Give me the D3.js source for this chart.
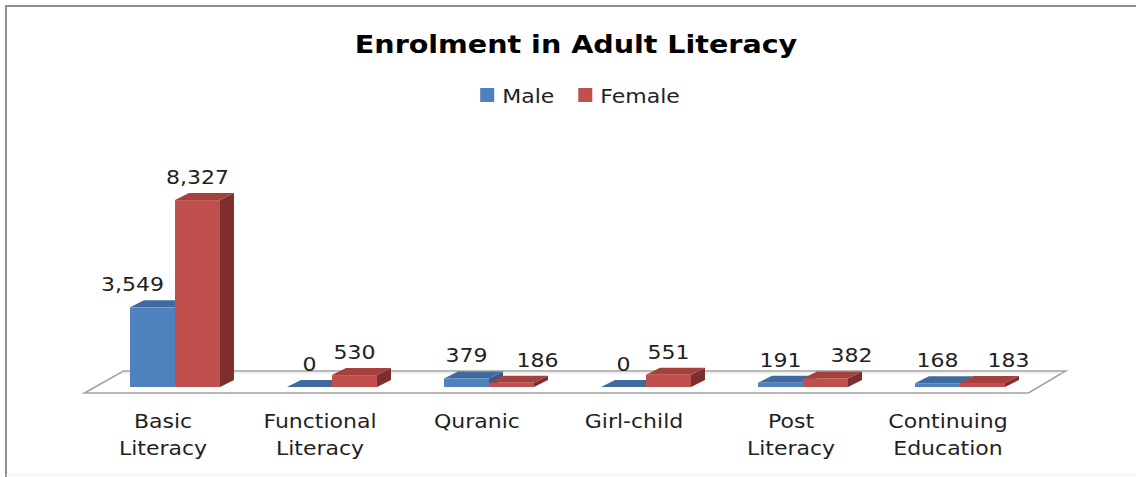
<!DOCTYPE html>
<html>
<head>
<meta charset="utf-8">
<script src="https://cdn.jsdelivr.net/npm/d3@7"></script>
<style>
  body { margin: 0; background: #fff; }
  text { font-family: "DejaVu Sans", sans-serif; fill: #1f1f1f; }
</style>
</head>
<body>
<div id="chart"></div>
<script>
// chart values
var categories = ['Basic Literacy', 'Functional Literacy', 'Quranic', 'Girl-child', 'Post Literacy', 'Continuing Education'];
var seriesNames = ['Male', 'Female'];
var male = [3549, 0, 379, 0, 191, 168];
var female = [8327, 530, 186, 551, 382, 183];

var config = {
    w: 1136,
    h: 477,
    depthX: 14,
    depthY: -7,
    sx: 1.1, // horizontal stretch of the text, the original is stretched
    colors: {
        Male: { front: '#4f81bd', top: '#3f6aa0', side: '#345a88' },
        Female: { front: '#c0504d', top: '#a5403d', side: '#7e2f2d' }
    }
};

var c = config;

var svg = d3.select('#chart').append('svg')
    .attr('width', c.w)
    .attr('height', c.h);

// outer frame
svg.append('path')
    .attr('d', 'M6,' + c.h + 'V6H' + c.w)
    .attr('fill', 'none')
    .attr('stroke', '#8e8e8e')
    .attr('stroke-width', 2);
svg.append('line')
    .attr('x1', 6).attr('x2', c.w)
    .attr('y1', 475).attr('y2', 475)
    .attr('stroke', '#ececec');

// puts a text at x,y, stretched horizontally
function stext(g, x, y, str, size, anchor) {
    return g.append('text')
        .attr('transform', 'translate(' + x + ',' + y + ') scale(' + c.sx + ',1)')
        .attr('text-anchor', anchor || 'middle')
        .style('font-size', size + 'px')
        .text(str);
}

// title
stext(svg, 576, 53, 'Enrolment in Adult Literacy', 24)
    .attr('transform', 'translate(576,53) scale(1.19,1)')
    .style('font-weight', 'bold')
    .style('fill', '#000');

// legend
var legend = svg.append('g');
var lx = 0;
seriesNames.forEach(function(name) {
    legend.append('rect')
        .attr('x', lx).attr('y', 88)
        .attr('width', 14).attr('height', 14)
        .attr('fill', c.colors[name].front);
    var t = stext(legend, lx + 22, 103, name, 20, 'start');
    lx += 22 + t.node().getComputedTextLength() * c.sx + 24;
});
legend.attr('transform', 'translate(' + (580 - (lx - 24) / 2) + ',0)');

// scales
var x = d3.scaleBand()
    .domain(categories)
    .range([96.5, 1038.5])
    .paddingInner(0.427)
    .paddingOuter(0.2135);
var xs = d3.scaleBand()
    .domain(seriesNames)
    .range([0, x.bandwidth()]);
var y = d3.scaleLinear()
    .domain([0, 9000])
    .range([387, 185]);

// floor
var fx0 = x.range()[0] - 12, fx1 = x.range()[1] - 10;
svg.append('path')
    .attr('d', 'M' + fx0 + ',393L' + fx1 + ',393L' + (fx1 + 37) + ',371L' + (fx0 + 39) + ',371Z')
    .attr('fill', '#fff')
    .attr('stroke', '#a3a3a3')
    .attr('stroke-width', 1.6);
svg.append('line')
    .attr('x1', fx0 + 37).attr('x2', fx1 + 34)
    .attr('y1', 373).attr('y2', 373)
    .attr('stroke', '#e2e2e2');

// bars
var rows = categories.map(function(cat, i) {
    return { cat: cat, values: [{ s: 'Male', v: male[i] }, { s: 'Female', v: female[i] }] };
});

var bars = svg.append('g');
var dx = c.depthX, dy = c.depthY;
rows.forEach(function(row) {
    row.values.forEach(function(d) {
        var x0 = x(row.cat) + xs(d.s), x1 = x0 + xs.bandwidth();
        var yt = y(d.v), yb = y(0);
        var col = c.colors[d.s];
        var g = bars.append('g');
        // side
        g.append('path')
            .attr('d', 'M' + x1 + ',' + yb + 'L' + (x1 + dx) + ',' + (yb + dy) +
                'L' + (x1 + dx) + ',' + (yt + dy) + 'L' + x1 + ',' + yt + 'Z')
            .attr('fill', col.side);
        // top
        g.append('path')
            .attr('d', 'M' + x0 + ',' + yt + 'L' + x1 + ',' + yt + 'L' + (x1 + dx) + ',' + (yt + dy) +
                'L' + (x0 + dx) + ',' + (yt + dy) + 'Z')
            .attr('fill', col.top);
        // front
        g.append('rect')
            .attr('x', x0).attr('y', yt)
            .attr('width', x1 - x0).attr('height', yb - yt)
            .attr('fill', col.front);
    });
});

// value labels
var labels = svg.append('g');
var fmt = d3.format(',');
rows.forEach(function(row) {
    var m = row.values[0], f = row.values[1];
    var mx0 = x(row.cat) + xs('Male'), fx = x(row.cat) + xs('Female');
    var bw = xs.bandwidth();
    var mBase = y(m.v) + dy - 9, fBase = y(f.v) + dy - 9;

    var mt = stext(labels, mx0 + bw / 2, mBase, fmt(m.v), 20);
    var mw = mt.node().getComputedTextLength() * c.sx;
    var mRight = mx0 + bw / 2 + mw / 2;
    // label would run into the taller neighbour bar: keep it left of it
    if (y(f.v) + dy < mBase - 10 && mRight > fx - 11) {
        mt.attr('transform', 'translate(' + (fx - 11) + ',' + mBase + ') scale(' + c.sx + ',1)')
            .attr('text-anchor', 'end');
        mRight = fx - 11;
    }

    var ft = stext(labels, fx + bw / 2, fBase, fmt(f.v), 20);
    var fw = ft.node().getComputedTextLength() * c.sx;
    // labels on the same level overlap: push the right one away
    if (Math.abs(fBase - mBase) < 8 && fx + bw / 2 - fw / 2 < mRight + 29) {
        ft.attr('transform', 'translate(' + (mRight + 29 + fw / 2) + ',' + fBase + ') scale(' + c.sx + ',1)');
    }
});

// category labels, centred on the front of the floor
var cats = svg.append('g');
categories.forEach(function(cat) {
    var cx = x(cat) + x.bandwidth() / 2 - 12;
    cat.split(' ').forEach(function(line, j) {
        stext(cats, cx, 428 + j * 27, line, 20);
    });
});
</script>
</body>
</html>
